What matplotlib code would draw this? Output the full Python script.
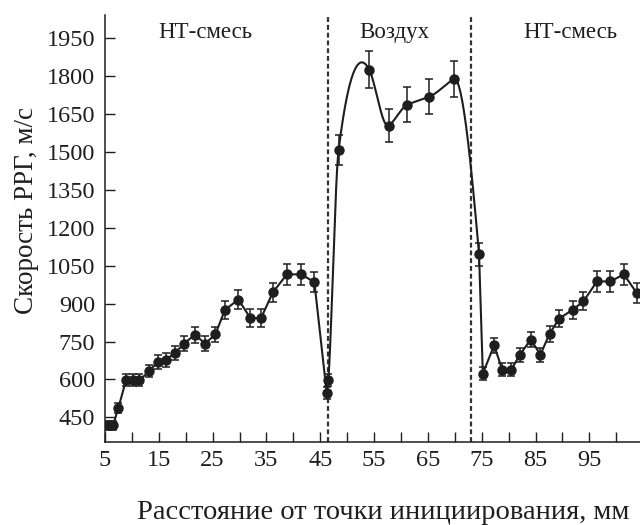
import numpy as np
import matplotlib
matplotlib.use("Agg")
import matplotlib.pyplot as plt

# distance from initiation point, mm
x_mm = [5.6, 6.5, 7.5, 8.9, 10.2, 11.4, 13.2, 14.8, 16.3, 18.0, 19.7, 21.7,
        23.6, 25.5, 27.3, 29.8, 32.0, 34.0, 36.2, 38.8, 41.4, 43.9, 46.2, 46.5,
        48.4, 54.1, 57.7, 61.2, 65.2, 69.8, 74.5, 75.2, 77.3, 78.8, 80.5, 82.1,
        84.1, 85.9, 87.6, 89.4, 91.9, 93.9, 96.4, 98.9, 101.4, 103.8]
# wave speed, m/s
speed = [418, 418, 488, 596, 596, 596, 633, 669, 678, 704, 742, 777,
         742, 778, 876, 916, 843, 843, 945, 1016, 1016, 986, 546, 596,
         1507, 1826, 1605, 1688, 1719, 1789, 1095, 623, 735, 639, 639, 698,
         758, 698, 781, 841, 876, 909, 988, 988, 1016, 942]
speed_err = [17, 17, 20, 24, 24, 24, 25, 27, 27, 28, 30, 31,
             30, 31, 35, 37, 34, 34, 38, 41, 41, 39, 22, 24,
             60, 73, 64, 68, 69, 72, 44, 25, 29, 26, 26, 28,
             30, 28, 31, 34, 35, 36, 40, 40, 41, 38]

# air gap boundaries, mm
boundaries = [46.5, 73.0]
region_names = ["НТ-смесь", "Воздух", "НТ-смесь"]
region_x = [23.6, 58.7, 91.4]

x_ticks = np.arange(5, 101, 5)
x_labels = [str(t) if t % 10 == 5 else "" for t in x_ticks]
y_ticks = np.arange(450, 1951, 150)


def akima_tangents(x, y):
    x = np.asarray(x, float)
    y = np.asarray(y, float)
    s = np.diff(y) / np.diff(x)
    # two extrapolated slopes on each end: ext[j] is slope s[j - 2]
    a = 2 * s[0] - s[1]
    b = 2 * s[-1] - s[-2]
    ext = np.concatenate([[2 * a - s[0], a], s, [b, 2 * b - s[-1]]])
    t = np.zeros(len(x))
    for i in range(len(x)):
        sm2, sm1, s0, sp1 = ext[i], ext[i + 1], ext[i + 2], ext[i + 3]
        w1, w2 = abs(sp1 - s0), abs(sm1 - sm2)
        t[i] = (sm1 + s0) / 2 if w1 + w2 == 0 else (w1 * sm1 + w2 * s0) / (w1 + w2)
    return t


def hermite_curve(x, y, t, i0, i1, n=60):
    xs, ys = [], []
    for i in range(i0, i1):
        h = x[i + 1] - x[i]
        u = np.linspace(0, 1, n)
        h00 = 2 * u**3 - 3 * u**2 + 1
        h10 = u**3 - 2 * u**2 + u
        h01 = -2 * u**3 + 3 * u**2
        h11 = u**3 - u**2
        xs.extend(x[i] + u * h)
        ys.extend(h00 * y[i] + h10 * h * t[i] + h01 * y[i + 1] + h11 * h * t[i + 1])
    return xs, ys


plt.rcParams["font.family"] = ["Liberation Serif", "DejaVu Serif"]
ink = "#1e1e1e"

fig = plt.figure(figsize=(6.4, 5.25), dpi=100)
ax = fig.add_axes([0.164, 0.158, 0.836, 0.813])

# straight segments in the mixture, smooth curve through the air gap
i0, i1 = 23, 30
tang = akima_tangents(x_mm, speed)
cx, cy = hermite_curve(x_mm, speed, tang, i0, i1)
line_x = list(x_mm[:i0]) + cx + list(x_mm[i1 + 1:])
line_y = list(speed[:i0]) + cy + list(speed[i1 + 1:])
ax.plot(line_x, line_y, color=ink, lw=1.5, zorder=3)

ax.errorbar(x_mm, speed, yerr=speed_err, fmt="o", color=ink, ms=6.5,
            elinewidth=1.1, capsize=3, capthick=1.1, zorder=4)

for b in boundaries:
    ax.axvline(b, color="#333333", lw=1.6, ls=(0, (2.2, 1.3)), zorder=2)

for name, xc in zip(region_names, region_x):
    ax.text(xc, 1972, name, ha="center", va="center", fontsize=16.5, color=ink)

ax.set_xlim(5, 104.4)
ax.set_ylim(352, 2042)
ax.set_xticks(x_ticks)
ax.set_xticklabels(x_labels)
ax.set_yticks(y_ticks)
ax.tick_params(direction="in", length=7, width=1, colors=ink,
               labelsize=17.5)
ax.tick_params(axis="x", pad=6)
ax.tick_params(axis="y", pad=7)
for side in ["top", "right"]:
    ax.spines[side].set_visible(False)
for side in ["left", "bottom"]:
    ax.spines[side].set_color(ink)
    ax.spines[side].set_linewidth(1.1)

fig.text(0.599, 0.024, "Расстояние от точки инициирования, мм",
         ha="center", va="center", fontsize=20.5, color=ink)
fig.text(0.042, 0.60, "Скорость РРГ, м/с", rotation=90,
         ha="center", va="center", fontsize=19.5, color=ink)

fig.savefig("out.png", dpi=100)
